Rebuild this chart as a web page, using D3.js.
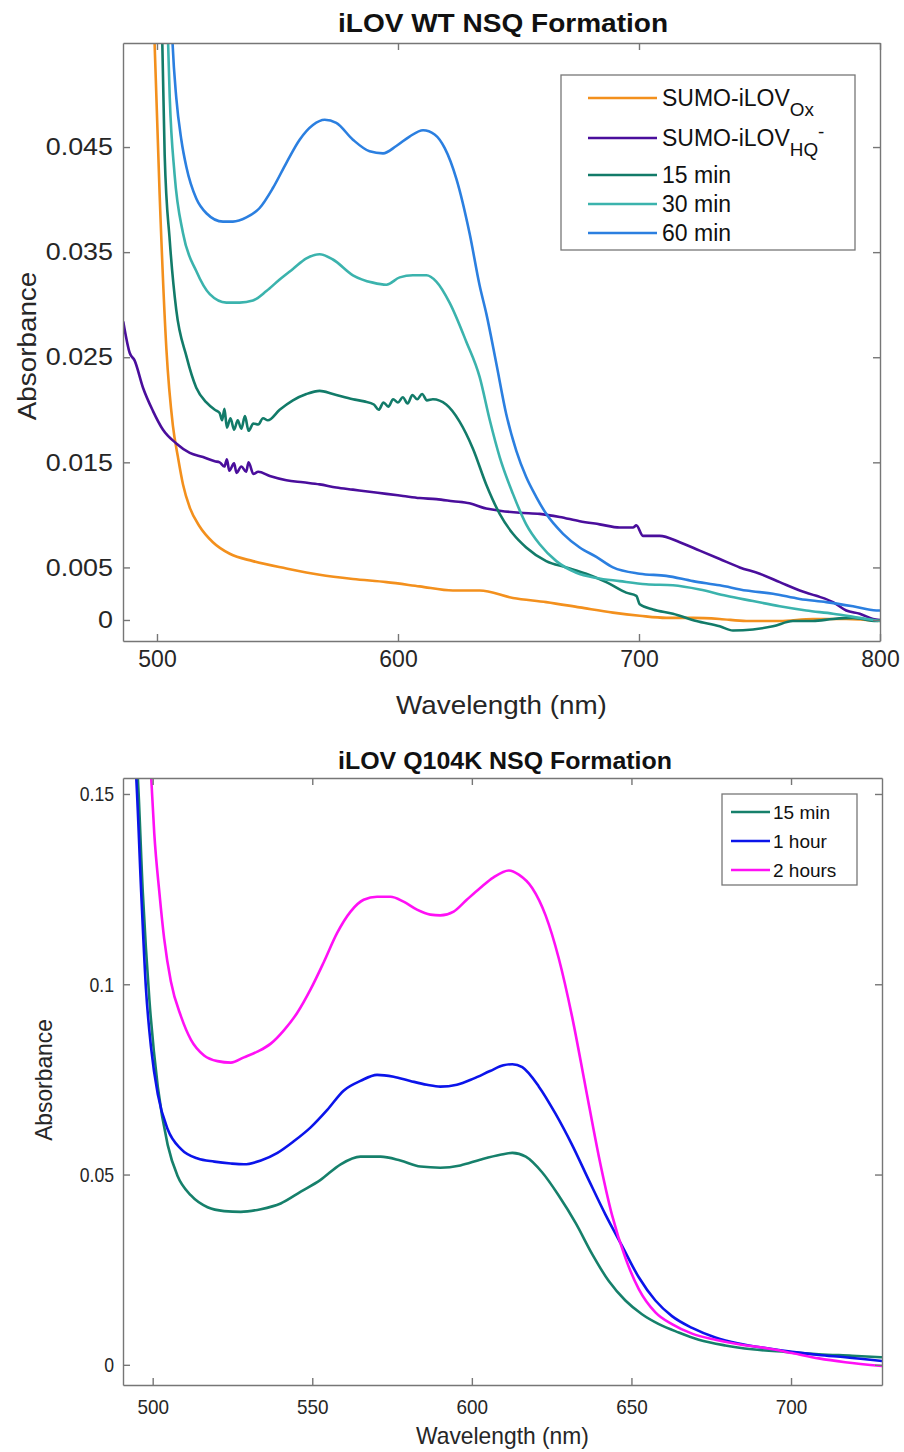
<!DOCTYPE html>
<html><head><meta charset="utf-8">
<script src="https://cdn.jsdelivr.net/npm/d3@7"></script>
<style>
body{margin:0;background:#fff;}
svg{display:block;font-family:"Liberation Sans",Arial,sans-serif;}
</style></head>
<body><svg id="c" width="904" height="1452"></svg>
<script>
// ===== Top chart: iLOV WT NSQ Formation =====  [wavelength nm, absorbance]
const wtOx = [[497,0.07],[499,0.055],[501.1,0.0405],[503.9,0.0258],[506.6,0.0185],[508.7,0.0155],[510.8,0.0129],[513.6,0.0107],[517.7,0.0089],[523.2,0.0074],[530.2,0.0063],[539.8,0.0056],[553.7,0.0049],[567.5,0.0043],[581.3,0.0039],[595.2,0.0036],[609,0.0032],[622.8,0.0028],[633.9,0.0028],[647.7,0.0021],[661.5,0.0017],[675.4,0.0012],[689.2,0.0007],[700.3,0.0004],[711.3,0.0002],[722.4,0.0002],[733.5,0.0001],[744.5,-0.0001],[758.4,-0.0001],[772.2,0.0001],[786,0.0001],[800,-0.0001]];
const wtHQ = [[486,0.0284],[488.7,0.0254],[490.7,0.0247],[494.2,0.0221],[498.3,0.0199],[502.5,0.0181],[508,0.0168],[513.6,0.0159],[519.1,0.0155],[524,0.0151],[526,0.0150],[528,0.0146],[529,0.0153],[530,0.0142],[532,0.0149],[533,0.0140],[535,0.0146],[537,0.0141],[538,0.0150],[540,0.0139],[542,0.0141],[546.8,0.0137],[553.7,0.0133],[560.6,0.0131],[567.5,0.0129],[574.4,0.0126],[581.3,0.0124],[588.2,0.0122],[595.2,0.0120],[602.1,0.0118],[609,0.0116],[615.9,0.0115],[622.8,0.0113],[629.7,0.0111],[636.6,0.0106],[642.2,0.0104],[650.5,0.0102],[658.8,0.0101],[667.1,0.0098],[675.4,0.0094],[683.7,0.0091],[692,0.0088],[697.5,0.0088],[698.9,0.0090],[701.7,0.0080],[708.6,0.0080],[716.9,0.0074],[725.2,0.0066],[733.5,0.0058],[741.8,0.0050],[750.1,0.0044],[758.4,0.0036],[766.7,0.0028],[773.6,0.0023],[780.5,0.0017],[786,0.0009],[791.6,0.0006],[797.1,0.0001],[800,0.0000]];
const wt15 = [[500.5,0.065],[502.2,0.055],[503.2,0.0442],[505.3,0.0361],[508,0.0295],[512.2,0.0251],[516.3,0.0221],[520.5,0.0207],[524,0.0200],[526,0.0197],[527,0.0190],[528,0.0201],[529,0.0183],[530.5,0.0192],[532,0.0181],[533.5,0.0190],[535,0.0182],[536.5,0.0194],[538,0.0180],[540,0.0187],[542,0.0186],[544,0.0192],[546,0.0190],[550.9,0.0200],[556.4,0.0209],[562,0.0215],[567.5,0.0218],[573,0.0215],[581.3,0.0210],[586,0.0208],[590,0.0205],[592,0.0200],[594,0.0207],[596,0.0203],[598,0.0210],[600,0.0207],[602,0.0212],[604,0.0206],[606,0.0214],[608,0.0210],[610,0.0215],[612,0.0209],[614.5,0.0210],[620,0.0205],[625.5,0.0189],[631.1,0.0163],[636.6,0.0129],[642.2,0.0101],[647.7,0.0082],[653.2,0.0069],[661.5,0.0056],[669.8,0.0050],[678.1,0.0044],[686.4,0.0036],[694.7,0.0026],[698.9,0.0023],[700.3,0.0015],[705.8,0.0010],[714.1,0.0006],[723.8,-0.0001],[733.5,-0.0006],[739,-0.0010],[747.3,-0.0009],[755.6,-0.0006],[763.9,-0.0001],[772.2,-0.0001],[780.5,0.0001],[788.8,0.0002],[798.5,-0.0001],[800,0.0000]];
const wt30 = [[503,0.065],[504.6,0.055],[505.3,0.0497],[507.3,0.0424],[510.8,0.0368],[516.3,0.0332],[521.9,0.0310],[528.8,0.0302],[534.3,0.0302],[539.8,0.0304],[545.4,0.0313],[550.9,0.0324],[556.4,0.0334],[562,0.0344],[567.5,0.0348],[573,0.0343],[581.3,0.0328],[589.6,0.0321],[595.2,0.0319],[600.7,0.0326],[606.2,0.0328],[611.8,0.0328],[615.9,0.0322],[621.4,0.0302],[628.3,0.0265],[633.9,0.0231],[638.1,0.0190],[642.2,0.0155],[647.7,0.0120],[653.2,0.0091],[658.8,0.0072],[665.7,0.0056],[674,0.0045],[682.3,0.0040],[692,0.0037],[703,0.0034],[714.1,0.0033],[725.2,0.0029],[736.2,0.0023],[747.3,0.0018],[758.4,0.0013],[769.4,0.0009],[780.5,0.0006],[791.6,0.0002],[800,-0.0001]];
const wt60 = [[505,0.065],[506.4,0.0552],[508,0.0497],[510.1,0.0457],[512.2,0.0431],[516.3,0.0401],[520.5,0.0387],[527.4,0.0379],[531.5,0.0379],[537.1,0.0383],[542.6,0.0392],[548.1,0.0411],[553.7,0.0435],[559.2,0.0457],[564.7,0.0471],[569.6,0.0476],[574.4,0.0473],[581.3,0.0457],[588.2,0.0446],[593.8,0.0444],[599.3,0.0451],[604.8,0.0460],[610.4,0.0466],[615.2,0.0462],[619.4,0.0449],[624.2,0.0420],[629.7,0.0368],[633.9,0.0318],[636.7,0.0291],[640.8,0.0244],[644.9,0.0196],[649.1,0.0161],[653.2,0.0136],[657.4,0.0117],[661.5,0.0101],[668.5,0.0082],[675.4,0.0069],[682.3,0.0060],[689.2,0.0050],[700.3,0.0044],[711.3,0.0042],[722.4,0.0037],[733.5,0.0033],[744.5,0.0028],[755.6,0.0025],[766.7,0.0020],[777.7,0.0017],[788.8,0.0013],[798.5,0.0009],[800,0.0009]];
const wtYTicks = [0, 0.005, 0.015, 0.025, 0.035, 0.045];
const wtXTicks = [500, 600, 700, 800];

// ===== Bottom chart: iLOV Q104K NSQ Formation =====
const qk15 = [[493.5,0.17],[495.3,0.155],[496.9,0.1242],[499,0.0956],[501.6,0.0731],[504.7,0.0578],[507.8,0.0496],[512,0.0445],[517.2,0.0414],[522.4,0.0404],[527.6,0.0402],[533.9,0.0409],[540.1,0.0424],[546.4,0.0455],[552.6,0.0486],[558.9,0.0527],[565.1,0.0547],[571.4,0.0547],[577.6,0.0537],[583.9,0.0521],[590.1,0.0518],[596.4,0.0524],[602.6,0.0539],[608.9,0.0552],[612.7,0.0557],[616.9,0.0547],[622,0.0506],[627.2,0.0445],[632.5,0.0373],[637.7,0.0291],[642.9,0.0220],[648.1,0.0169],[653.3,0.0133],[658.6,0.0107],[664.8,0.0085],[671.1,0.0066],[679.4,0.0051],[687.8,0.0041],[698.2,0.0034],[708.7,0.0028],[719.1,0.0024],[728.5,0.0020]];
const qk1h = [[493,0.17],[494.8,0.155],[496.4,0.1242],[497.9,0.0987],[499.5,0.0833],[501.6,0.0711],[504.7,0.0619],[508.9,0.0567],[514.1,0.0542],[519.3,0.0534],[524.5,0.0529],[528.6,0.0527],[533.9,0.0537],[539.1,0.0557],[544.3,0.0588],[549.5,0.0624],[554.7,0.0670],[559.9,0.0721],[565.1,0.0746],[570.3,0.0762],[575.5,0.0757],[580.7,0.0746],[585.9,0.0736],[590.1,0.0731],[595.3,0.0736],[600.5,0.0752],[605.7,0.0772],[609.9,0.0787],[612.7,0.0790],[615.8,0.0782],[621,0.0731],[626.2,0.0660],[631.4,0.0578],[636.6,0.0486],[641.9,0.0394],[647.1,0.0312],[652.3,0.0230],[657.5,0.0169],[662.7,0.0128],[669,0.0097],[676.3,0.0072],[683.6,0.0056],[692,0.0044],[700.3,0.0034],[708.7,0.0026],[717,0.0020],[728.5,0.0010]];
const qk2h = [[498.5,0.17],[499.5,0.155],[500.5,0.1396],[502.1,0.1241],[503.6,0.1120],[505.7,0.1007],[508.9,0.0915],[512,0.0854],[516.1,0.0813],[520.3,0.0798],[524.5,0.0794],[528.6,0.0808],[532.8,0.0823],[537,0.0844],[541.1,0.0879],[545.3,0.0925],[549.5,0.0987],[553.6,0.1058],[557.8,0.1135],[562,0.1191],[566.1,0.1222],[570.3,0.1230],[574.5,0.1230],[578.6,0.1217],[582.8,0.1196],[587,0.1183],[590.1,0.1181],[594.3,0.1191],[598.4,0.1222],[602.6,0.1253],[606.8,0.1281],[611.6,0.1299],[614.7,0.1288],[618.9,0.1253],[623.1,0.1181],[627.2,0.1069],[631.4,0.0915],[635.6,0.0731],[639.8,0.0547],[643.9,0.0394],[648.1,0.0281],[652.3,0.0199],[657.5,0.0138],[662.7,0.0107],[669,0.0082],[676.3,0.0066],[683.6,0.0054],[692,0.0044],[700.3,0.0031],[708.7,0.0017],[717,0.0007],[728.5,-0.0003]];
const qkYTicks = [0, 0.05, 0.1, 0.15];
const qkXTicks = [500, 550, 600, 650, 700];

const svg = d3.select("#c");
const TXT = "#262626", AX = "#767676";

// horizontally scale text to a factor of its natural width
function stretch(sel, f){
  if(f===1) return;
  sel.each(function(){
    const w = this.getComputedTextLength();
    d3.select(this).attr("textLength", w*f).attr("lengthAdjust","spacingAndGlyphs");
  });
}

function drawChart(o){
  const {L,R,T,B} = o.box;
  const x = d3.scaleLinear().domain(o.xDom).range([L,R]);
  const y = d3.scaleLinear().domain(o.yDom).range([B,T]);
  const g = svg.append("g");
  const cid = "clip"+o.id;
  svg.append("defs").append("clipPath").attr("id",cid).append("rect")
     .attr("x",L).attr("y",T).attr("width",R-L).attr("height",B-T);
  const line = d3.line().x(d=>x(d[0])).y(d=>y(d[1])).curve(d3.curveMonotoneX);
  const lg = g.append("g").attr("clip-path",`url(#${cid})`);
  o.series.forEach(s=>{
    lg.append("path").datum(s.data).attr("d",line).attr("fill","none")
      .attr("stroke",s.color).attr("stroke-width",o.lw).attr("stroke-linejoin","round");
  });
  const ax = (axis, tr, font, f)=>{
    const a = g.append("g").attr("transform",tr).call(axis);
    a.select(".domain").attr("stroke",AX).attr("stroke-width",1.4);
    a.selectAll(".tick line").attr("stroke",AX).attr("stroke-width",1.4);
    const t = a.selectAll("text").attr("fill",TXT).style("font-size",font+"px").style("font-family","Liberation Sans");
    stretch(t, f);
    return a;
  };
  ax(d3.axisBottom(x).tickValues(o.xTicks).tickSizeInner(-7).tickSizeOuter(0).tickPadding(o.xPad).tickFormat(d3.format("d")), `translate(0,${B})`, o.xTickFont, o.xTickF);
  ax(d3.axisTop(x).tickValues(o.xTicks).tickSizeInner(-7).tickSizeOuter(0).tickFormat(""), `translate(0,${T})`, 10, 1);
  ax(d3.axisLeft(y).tickValues(o.yTicks).tickSizeInner(-7).tickSizeOuter(0).tickPadding(o.yPad).tickFormat(o.fmt), `translate(${L},0)`, o.yTickFont, o.yTickF);
  ax(d3.axisRight(y).tickValues(o.yTicks).tickSizeInner(-7).tickSizeOuter(0).tickFormat(""), `translate(${R},0)`, 10, 1);
  // title and labels
  svg.append("text").attr("x",o.titleX).attr("y",o.titleY).attr("text-anchor","middle")
    .attr("fill","#111").style("font-weight","bold").style("font-size",o.titleFont+"px")
    .attr("textLength",o.titleW).attr("lengthAdjust","spacingAndGlyphs").text(o.title);
  stretch(svg.append("text").attr("x",(L+R)/2).attr("y",o.xLabelY).attr("text-anchor","middle")
    .attr("fill",TXT).style("font-size",o.labelFont+"px").text("Wavelength (nm)"), o.labelF);
  stretch(svg.append("text").attr("transform",`translate(${o.yLabelX},${o.yLabelY}) rotate(-90)`).attr("text-anchor","middle")
    .attr("fill",TXT).style("font-size",o.labelFont+"px").text("Absorbance"), o.labelF);
  // legend
  const lgd = o.legend;
  svg.append("rect").attr("x",lgd.x).attr("y",lgd.y).attr("width",lgd.w).attr("height",lgd.h)
    .attr("fill","#fff").attr("stroke","#777").attr("stroke-width",1.3);
  o.series.forEach((s,i)=>{
    const ry = lgd.rows[i];
    svg.append("line").attr("x1",lgd.lx1).attr("x2",lgd.lx2).attr("y1",ry).attr("y2",ry)
      .attr("stroke",s.color).attr("stroke-width",o.lw);
    const t = svg.append("text").attr("x",lgd.tx).attr("y",ry+lgd.font*0.36).attr("fill","#111")
      .style("font-size",lgd.font+"px");
    t.append("tspan").text(s.label);
    if(s.sub){
      t.append("tspan").attr("dy",lgd.font*0.42).style("font-size",(lgd.font*0.82)+"px").text(s.sub);
      if(s.sup) t.append("tspan").attr("dy",-lgd.font*0.8).style("font-size",(lgd.font*0.82)+"px").text(s.sup);
    }
  });
}

const fmtWT = d => d===0 ? "0" : d3.format(".3f")(d);
const fmtQK = d => d===0 ? "0" : String(d);

drawChart({
  id:"wt", box:{L:123,R:880,T:43,B:641}, xDom:[485.9,800], yDom:[-0.002,0.0549],
  xTicks:wtXTicks, yTicks:wtYTicks, fmt:fmtWT, lw:2.6,
  xTickFont:23, xTickF:1, yTickFont:24, yTickF:1.12, xPad:10, yPad:10,
  title:"iLOV WT NSQ Formation", titleX:503, titleY:32, titleFont:26, titleW:330,
  labelFont:26, labelF:1.07, xLabelY:714, yLabelX:36, yLabelY:346,
  series:[
    {data:wtOx, color:"#f3901d", label:"SUMO-iLOV", sub:"Ox"},
    {data:wtHQ, color:"#4a0e9c", label:"SUMO-iLOV", sub:"HQ", sup:"-"},
    {data:wt15, color:"#127b69", label:"15 min"},
    {data:wt30, color:"#3bb3ad", label:"30 min"},
    {data:wt60, color:"#2b7fe0", label:"60 min"}
  ],
  legend:{x:561,y:75,w:294,h:175,rows:[98,138,175,204,233],lx1:588,lx2:657,tx:662,font:23}
});

drawChart({
  id:"qk", box:{L:123,R:882,T:778,B:1385}, xDom:[490.7,728.5], yDom:[-0.0053,0.1542],
  xTicks:qkXTicks, yTicks:qkYTicks, fmt:fmtQK, lw:2.6,
  xTickFont:21, xTickF:0.9, yTickFont:21, yTickF:0.84, xPad:14, yPad:9,
  title:"iLOV Q104K NSQ Formation", titleX:505, titleY:769, titleFont:24, titleW:334,
  labelFont:24, labelF:0.95, xLabelY:1444, yLabelX:52, yLabelY:1080,
  series:[
    {data:qk15, color:"#16806b", label:"15 min"},
    {data:qk1h, color:"#0b14ea", label:"1 hour"},
    {data:qk2h, color:"#ff10f5", label:"2 hours"}
  ],
  legend:{x:722,y:794,w:135,h:91,rows:[812,841,870],lx1:731,lx2:770,tx:773,font:19}
});
</script></body></html>
